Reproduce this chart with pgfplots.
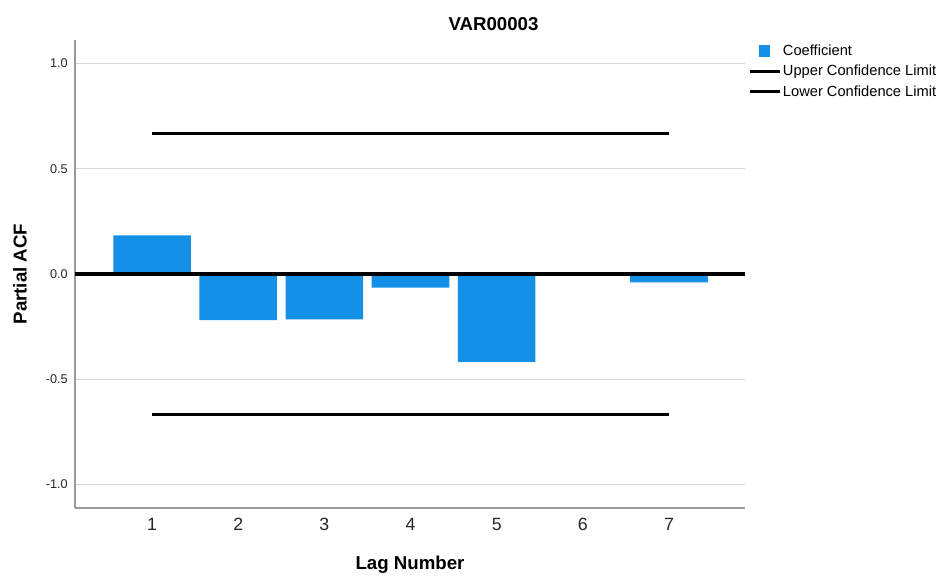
\documentclass[border=0pt]{standalone}
\usepackage{fontspec}
\setmainfont{Liberation Sans}
\usepackage{pgfplots}
\pgfplotsset{compat=1.18}
\definecolor{barblue}{HTML}{1490E6}
\definecolor{gridgray}{HTML}{D6D6D6}
\definecolor{axgray}{HTML}{9A9A9A}
\begin{document}
\begin{tikzpicture}
\useasboundingbox (0,0) rectangle (707.25pt,432pt);
\begin{axis}[
  at={(56.25pt,51pt)}, anchor=south west,
  scale only axis, width=502.5pt, height=351pt,
  xmin=0.106, xmax=7.882, ymin=-1.112, ymax=1.112,
  axis lines*=left,
  axis line style={axgray, line width=0.9pt, -},
  major tick length=0pt,
  xtick={1,2,3,4,5,6,7},
  ytick={-1,-0.5,0,0.5,1},
  yticklabels={-1.0,-0.5,0.0,0.5,1.0},
  ymajorgrids, grid style={gridgray, line width=0.9pt},
  /pgf/number format/assume math mode=true,
  xticklabel style={font=\fontsize{13.3}{15}\selectfont, text=black!85, yshift=-4pt},
  yticklabel style={font=\fontsize{9.5}{11}\selectfont, text=black!85, xshift=-2pt},
  title={\textbf{VAR00003}},
  title style={font=\fontsize{14}{16}\selectfont, at={(axis description cs:0.6246,1.017)}, anchor=center},
  xlabel={\textbf{Lag Number}},
  xlabel style={font=\fontsize{14}{16}\selectfont, at={(axis description cs:0.5,-0.1218)}, anchor=center},
  ylabel={\textbf{Partial ACF}},
  ylabel style={font=\fontsize{14}{16}\selectfont, at={(axis description cs:-0.0821,0.5)}, anchor=center, rotate=0},
  legend cell align=left,
  legend style={at={(axis description cs:1.0045,0.994)}, anchor=north west, draw=none, fill=none,
    font=\fontsize{11}{13}\selectfont, row sep=3.4pt, inner sep=0pt,
    nodes={inner sep=1.2pt}},
]
\addplot[ybar, bar width=0.9, fill=barblue, draw=none,
  legend image code/.code={\fill[barblue] (6pt,-4.2pt) rectangle (14.5pt,4.2pt);}]
  coordinates {(1,0.183) (2,-0.219) (3,-0.216) (4,-0.065) (5,-0.418) (6,0) (7,-0.040)};
\addlegendentry{Coefficient}
\addplot[black, line width=2.3pt,
  legend image code/.code={\draw[black, line width=2.3pt] (-1pt,0pt) -- (21.5pt,0pt);}]
  coordinates {(1,0.667) (7,0.667)};
\addlegendentry{Upper Confidence Limit}
\addplot[black, line width=2.3pt,
  legend image code/.code={\draw[black, line width=2.3pt] (-1pt,0pt) -- (21.5pt,0pt);}]
  coordinates {(1,-0.667) (7,-0.667)};
\addlegendentry{Lower Confidence Limit}
\addplot[black, line width=2.3pt, forget plot] coordinates {(0.106,0) (7.882,0)};
\end{axis}
\end{tikzpicture}
\end{document}
